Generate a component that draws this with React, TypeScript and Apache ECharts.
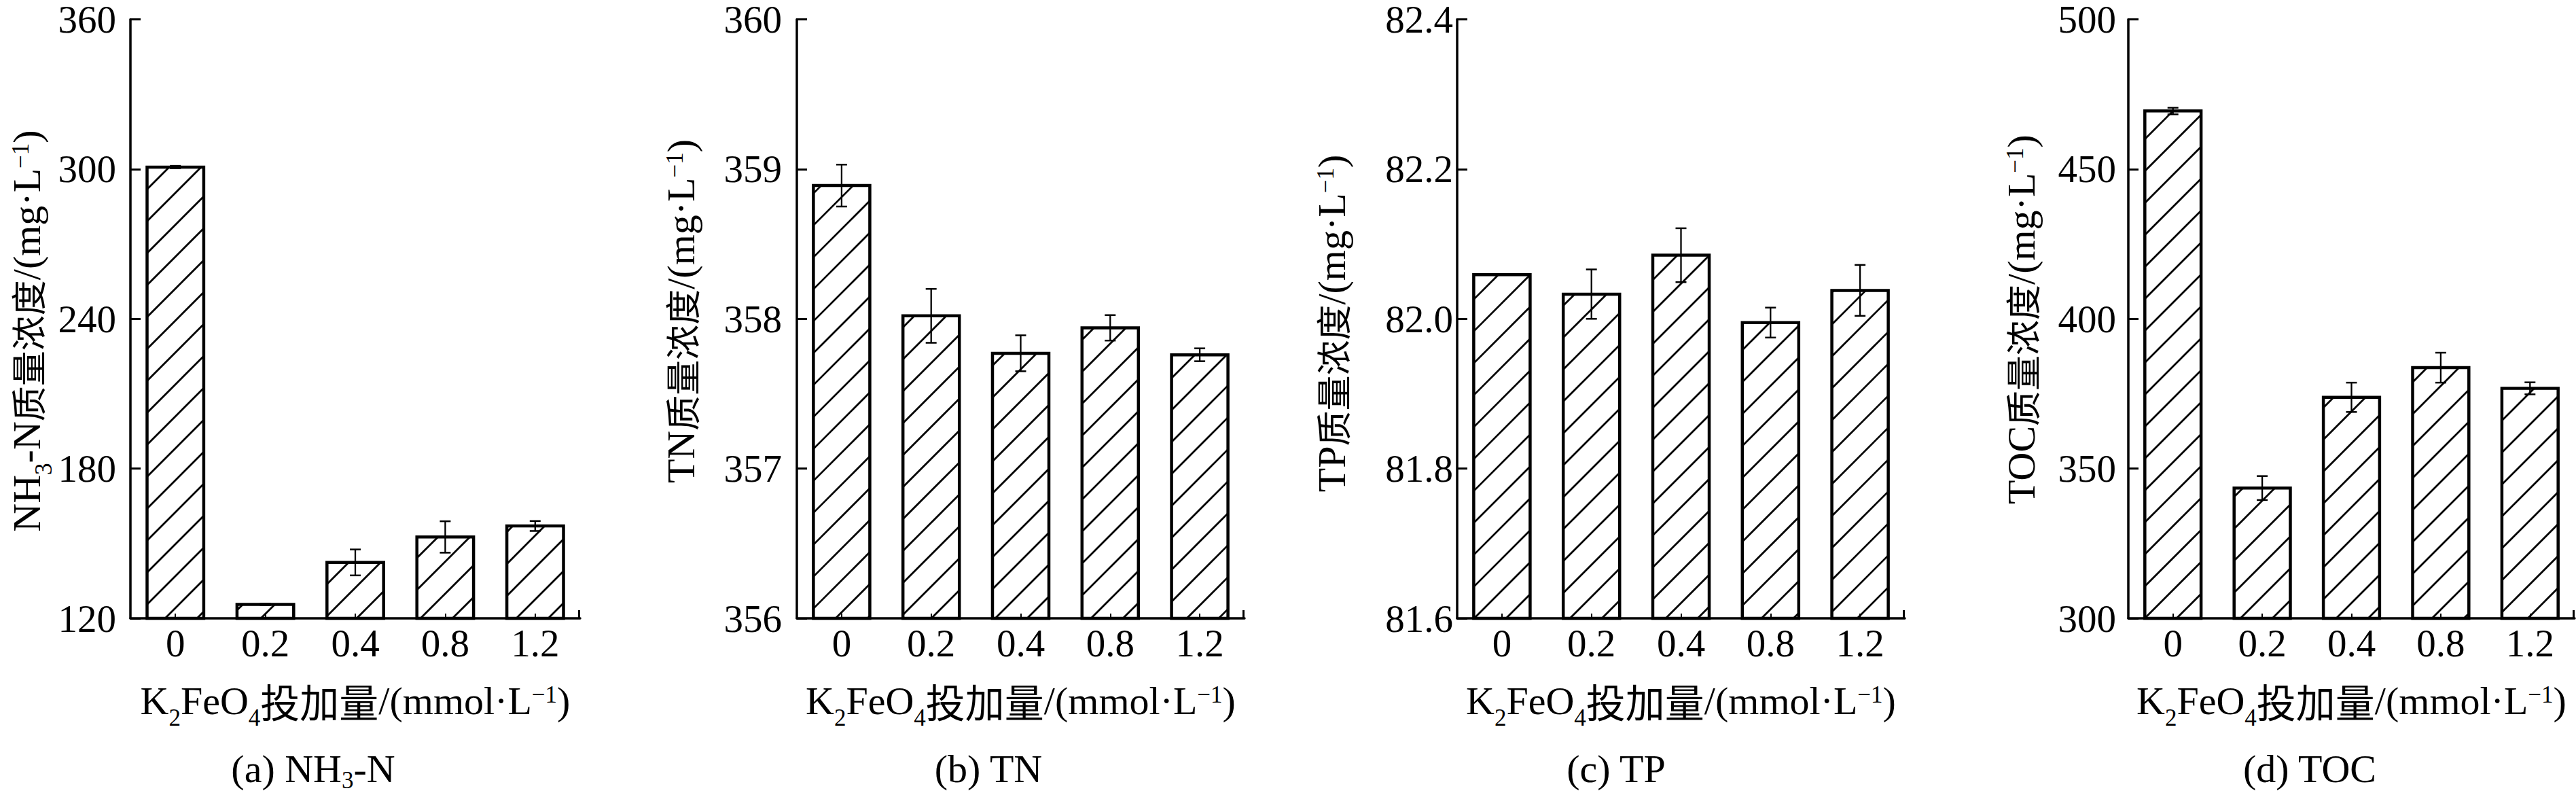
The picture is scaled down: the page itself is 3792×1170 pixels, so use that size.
import React, { useEffect, useRef } from 'react';
import * as echarts from 'echarts';

// ---------------- data ----------------
const categories = ['0', '0.2', '0.4', '0.8', '1.2'];

const nh3nValues = [300.8, 125.6, 142.4, 152.6, 157.0];
const nh3nErrors = [0.5, 0.3, 5.2, 6.3, 2.0];

const tnValues = [358.89, 358.02, 357.77, 357.94, 357.76];
const tnErrors = [0.14, 0.18, 0.12, 0.085, 0.043];

const tpValues = [82.059, 82.033, 82.085, 81.995, 82.038];
const tpErrors = [0, 0.033, 0.036, 0.02, 0.034];

const tocValues = [469.4, 343.5, 373.8, 383.7, 376.8];
const tocErrors = [1.1, 4.0, 4.9, 5.0, 2.0];

const nh3nAxis = { min: 120, max: 360, interval: 60, decimals: 0 };
const tnAxis = { min: 356, max: 360, interval: 1, decimals: 0 };
const tpAxis = { min: 81.6, max: 82.4, interval: 0.2, decimals: 1 };
const tocAxis = { min: 300, max: 500, interval: 50, decimals: 0 };

// rich-text strings (s = subscript, p = superscript, c = CJK)
const yNames = [
  '{n|NH}{s|3}{n|-N}{c|质量浓度}{n|/(mg·L}{p|−1}{n|)}',
  '{n|TN}{c|质量浓度}{n|/(mg·L}{p|−1}{n|)}',
  '{n|TP}{c|质量浓度}{n|/(mg·L}{p|−1}{n|)}',
  '{n|TOC}{c|质量浓度}{n|/(mg·L}{p|−1}{n|)}',
];
const xName = '{n|K}{s|2}{n|FeO}{s|4}{c|投加量}{n|/(mmol·L}{p|−1}{n|)}';
const captions = [
  '{n|(a) NH}{s|3}{n|-N}',
  '{n|(b) TN}',
  '{n|(c) TP}',
  '{n|(d) TOC}',
];

// ---------------- layout ----------------
const SERIF = '"Times New Roman", "Liberation Serif", "Noto Sans CJK SC", serif';
const CJK = '"Noto Sans CJK SC", "Noto Sans CJK JP", sans-serif';
const GRID_TOP = 22;
const GRID_HEIGHT = 888;
const layout = [
  { left: 192, width: 662, yNameX: 39, yNameY: 487, captionX: 461, labelMargin: 21 },
  { left: 1173, width: 659, yNameX: 1002, yNameY: 458, captionX: 1455, labelMargin: 22 },
  { left: 2145, width: 659, yNameX: 1960, yNameY: 476, captionX: 2379, labelMargin: 6 },
  { left: 3133, width: 657, yNameX: 2975, yNameY: 470, captionX: 3400, labelMargin: 18 },
];
const X_NAME_Y = 1031;
const CAPTION_Y = 1131;

const LINE_H = 60;
function makeRich(cjkSize: number, subPad: number) {
  return {
    n: { fontFamily: SERIF, fontSize: 58, lineHeight: LINE_H, color: '#000' },
    c: { fontFamily: CJK, fontSize: cjkSize, lineHeight: LINE_H, color: '#000' },
    s: { fontFamily: SERIF, fontSize: 35, lineHeight: LINE_H, verticalAlign: 'top', padding: [subPad, 0, 0, 0], color: '#000' },
    p: { fontFamily: SERIF, fontSize: 35, lineHeight: LINE_H, verticalAlign: 'top', padding: [4, 0, 0, 0], color: '#000' },
  };
}

const renderBar = (yMin: number) => (params: any, api: any) => {
  const idx = api.value(0);
  const val = api.value(1);
  const err = api.value(2);
  const top = api.coord([idx, val]);
  const base = api.coord([idx, yMin]);
  const band = api.size([1, 0])[0];
  const w = band * 0.63;
  const x0 = top[0] - w / 2;
  const x1 = top[0] + w / 2;
  const yt = top[1];
  const yb = base[1];
  const children: any[] = [];
  children.push({
    type: 'rect',
    shape: { x: x0, y: yt, width: w, height: yb - yt },
    style: { fill: '#fff' },
  });
  const sp = 47;
  const phase = 25;
  const kMin = x0 + yt;
  const kMax = x1 + yb;
  for (let k = Math.ceil((kMin - phase) / sp) * sp + phase; k <= kMax; k += sp) {
    const xa = Math.max(x0, k - yb);
    const xb = Math.min(x1, k - yt);
    if (xb - xa > 1) {
      children.push({
        type: 'line',
        shape: { x1: xa, y1: k - xa, x2: xb, y2: k - xb },
        style: { stroke: '#000', lineWidth: 2.8 },
      });
    }
  }
  children.push({
    type: 'rect',
    shape: { x: x0, y: yt, width: w, height: yb - yt },
    style: { fill: 'none', stroke: '#000', lineWidth: 4.5 },
  });
  if (err > 0) {
    const hi = api.coord([idx, val + err])[1];
    const lo = api.coord([idx, val - err])[1];
    const cx = top[0];
    const cw = 8;
    children.push({ type: 'line', shape: { x1: cx, y1: hi, x2: cx, y2: lo }, style: { stroke: '#000', lineWidth: 2.3 } });
    children.push({ type: 'line', shape: { x1: cx - cw, y1: hi, x2: cx + cw, y2: hi }, style: { stroke: '#000', lineWidth: 2.5 } });
    children.push({ type: 'line', shape: { x1: cx - cw, y1: lo, x2: cx + cw, y2: lo }, style: { stroke: '#000', lineWidth: 2.5 } });
  }
  return { type: 'group', children };
};

function buildOption() {
  const panels = [
    { values: nh3nValues, errors: nh3nErrors, axis: nh3nAxis },
    { values: tnValues, errors: tnErrors, axis: tnAxis },
    { values: tpValues, errors: tpErrors, axis: tpAxis },
    { values: tocValues, errors: tocErrors, axis: tocAxis },
  ];
  const grid: any[] = [];
  const xAxis: any[] = [];
  const yAxis: any[] = [];
  const series: any[] = [];
  const graphic: any[] = [];

  panels.forEach((p, i) => {
    const L = layout[i];
    grid.push({ left: L.left, top: GRID_TOP, width: L.width, height: GRID_HEIGHT, containLabel: false });
    xAxis.push({
      type: 'category',
      gridIndex: i,
      data: categories,
      boundaryGap: true,
      z: 5,
      axisLine: { show: true, lineStyle: { color: '#000', width: 3.5 } },
      axisTick: { show: true, inside: true, alignWithLabel: true, length: 7, lineStyle: { color: '#000', width: 2 } },
      axisLabel: { fontSize: 57, fontFamily: SERIF, color: '#000', margin: 8 },
      splitLine: { show: false },
    });
    yAxis.push({
      type: 'value',
      gridIndex: i,
      min: p.axis.min,
      max: p.axis.max,
      interval: p.axis.interval,
      z: 5,
      axisLine: { show: true, lineStyle: { color: '#000', width: 3.5 } },
      axisTick: { show: true, inside: true, length: 15, lineStyle: { color: '#000', width: 3 } },
      axisLabel: {
        fontSize: 57,
        lineHeight: 44,
        fontFamily: SERIF,
        color: '#000',
        margin: L.labelMargin,
        formatter: (v: number) => v.toFixed(p.axis.decimals),
      },
      splitLine: { show: false },
    });
    series.push({
      type: 'custom',
      xAxisIndex: i,
      yAxisIndex: i,
      data: p.values.map((v, j) => [j, v, p.errors[j]]),
      encode: { x: 0, y: 1 },
      renderItem: renderBar(p.axis.min),
      z: 2,
      clip: false,
    });
    const right = L.left + L.width;
    const bottom = GRID_TOP + GRID_HEIGHT;
    graphic.push({
      type: 'line',
      shape: { x1: right - 1.5, y1: bottom, x2: right - 1.5, y2: bottom - 12 },
      style: { stroke: '#000', lineWidth: 3 },
      z: 10,
    });
    graphic.push({
      type: 'text',
      x: L.yNameX,
      y: L.yNameY,
      rotation: Math.PI / 2,
      style: { text: yNames[i], rich: makeRich(52, 38), align: 'center', verticalAlign: 'middle' },
    });
    graphic.push({
      type: 'text',
      x: L.left + L.width / 2,
      y: X_NAME_Y,
      style: { text: xName, rich: makeRich(58, 38), align: 'center', verticalAlign: 'middle' },
    });
    graphic.push({
      type: 'text',
      x: L.captionX,
      y: CAPTION_Y,
      style: { text: captions[i], rich: makeRich(58, 30), align: 'center', verticalAlign: 'middle' },
    });
  });

  return {
    animation: false,
    backgroundColor: '#fff',
    grid,
    xAxis,
    yAxis,
    series,
    graphic,
  };
}

export default function App() {
  const ref = useRef<HTMLDivElement>(null);
  useEffect(() => {
    if (!ref.current) return;
    const chart = echarts.init(ref.current, undefined, { renderer: 'svg' });
    chart.setOption(buildOption() as any);
    return () => chart.dispose();
  }, []);
  return (
    <div
      ref={ref}
      style={{ position: 'fixed', left: 0, top: 0, width: 3792, height: 1170, background: '#fff' }}
    />
  );
}
